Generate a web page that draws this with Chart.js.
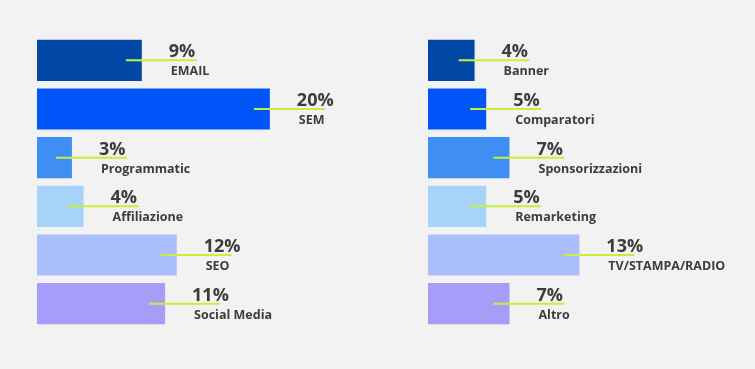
<!DOCTYPE html>
<html>
<head>
<meta charset="utf-8">
<script src="https://cdn.jsdelivr.net/npm/chart.js@4/dist/chart.umd.min.js"></script>
<style>
  html, body { margin: 0; padding: 0; background: #F2F2F2; }
  body { width: 755px; height: 369px; position: relative; overflow: hidden; }
  .wrap { position: absolute; top: 36px; width: 326px; height: 292px; }
  #w1 { left: 37px; }
  #w2 { left: 428px; }
</style>
</head>
<body>
<div class="wrap" id="w1"><canvas id="c1"></canvas></div>
<div class="wrap" id="w2"><canvas id="c2"></canvas></div>
<script>
const leftCategories = ['EMAIL', 'SEM', 'Programmatic', 'Affiliazione', 'SEO', 'Social Media'];
const leftValues = [9, 20, 3, 4, 12, 11];
const rightCategories = ['Banner', 'Comparatori', 'Sponsorizzazioni', 'Remarketing', 'TV/STAMPA/RADIO', 'Altro'];
const rightValues = [4, 5, 7, 5, 13, 7];
const barColors = ['#0047A6', '#0055F8', '#3F8EF3', '#A6D3FA', '#A9BEFA', '#A89CF9'];
const axisMax = 28;

const calloutPlugin = {
  id: 'callout',
  afterDatasetsDraw(chart) {
    const ctx = chart.ctx;
    const meta = chart.getDatasetMeta(0);
    const labels = chart.data.labels;
    const vals = chart.data.datasets[0].data;
    ctx.save();
    meta.data.forEach((bar, i) => {
      const x = bar.x, y = bar.y;
      ctx.strokeStyle = '#C9EE3A';
      ctx.lineWidth = 2;
      ctx.beginPath();
      ctx.moveTo(x - 16, y);
      ctx.lineTo(x + 55, y);
      ctx.stroke();
      ctx.fillStyle = '#3C3C3C';
      ctx.textBaseline = 'alphabetic';
      ctx.textAlign = 'left';
      ctx.font = 'bold 18px "Open Sans", sans-serif';
      ctx.fillText(vals[i] + '%', x + 27, y - 3);
      ctx.font = 'bold 12.5px "Open Sans", sans-serif';
      ctx.fillText(labels[i], x + 29, y + 15);
    });
    ctx.restore();
  }
};

function makeChart(id, cats, vals) {
  return new Chart(document.getElementById(id), {
    type: 'bar',
    data: {
      labels: cats,
      datasets: [{
        data: vals,
        backgroundColor: barColors,
        borderWidth: 0,
        categoryPercentage: 1,
        barPercentage: 0.845
      }]
    },
    options: {
      indexAxis: 'y',
      responsive: true,
      maintainAspectRatio: false,
      animation: false,
      devicePixelRatio: 1,
      layout: { padding: 0 },
      plugins: { legend: { display: false }, tooltip: { enabled: false } },
      scales: {
        x: { display: false, min: 0, max: axisMax },
        y: { display: false }
      }
    },
    plugins: [calloutPlugin]
  });
}

makeChart('c1', leftCategories, leftValues);
makeChart('c2', rightCategories, rightValues);
</script>
</body>
</html>
